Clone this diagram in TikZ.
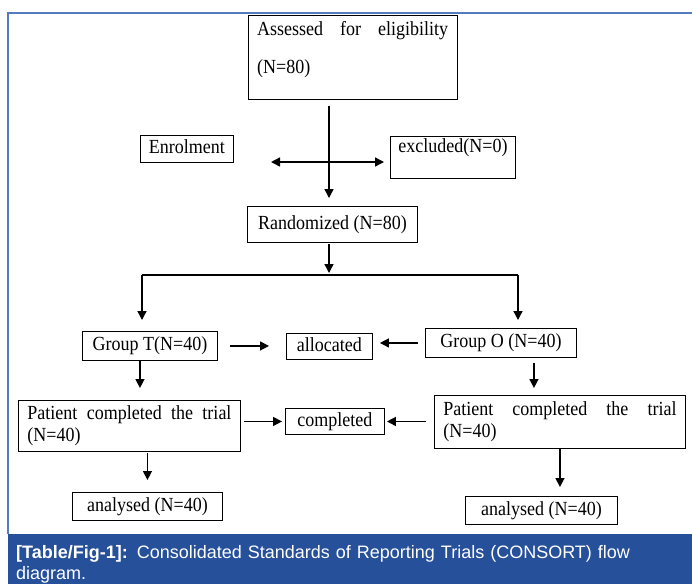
\documentclass[tikz,border=0pt]{standalone}
\usepackage{fontspec}
\setmainfont{Liberation Serif}[FakeStretch=0.9]
\setsansfont{Liberation Sans}
\usetikzlibrary{arrows.meta}
\definecolor{capblue}{RGB}{39,80,155}
\definecolor{rimblue}{RGB}{84,122,192}

\begin{document}
\begin{tikzpicture}[x=1pt,y=-1pt,
    box/.style={draw,line width=0.9pt,inner sep=0pt,anchor=north west,
      text height=14pt,text depth=4.5pt,font=\fontsize{20}{22}\selectfont},
    twoline/.style={box,align=left,inner xsep=9pt,text height=,text depth=},
    arr/.style={line width=1.4pt,-{Triangle[length=9pt,width=9pt]}},
    dblarr/.style={line width=1.4pt,{Triangle[length=9pt,width=9pt]}-{Triangle[length=9pt,width=9pt]}}]
  \useasboundingbox (0,0) rectangle (692,584);
  \fill[capblue] (8,534) rectangle (692,584);
  \draw[rimblue,line width=1.6pt] (8,534) -- (8,13) -- (692,13);

  \node[box,minimum width=209,minimum height=84] (assess) at (248,15) {};
  \node[anchor=north west,text width=191pt,align=left,inner sep=0pt,
    font=\fontsize{20}{22}\selectfont] (assessTxt) at (257,21)
    {Assessed\hfill for\hfill eligibility\\[16pt](N=80)};
  \node[box,minimum width=93,minimum height=27] (enrol) at (140,135) {Enrolment};
  \node[box,minimum width=125,minimum height=42,text depth=23pt] (excl) at (390,136) {excluded(N=0)};
  \node[box,minimum width=170,minimum height=36] (rand) at (247,206) {Randomized (N=80)};
  \node[box,minimum width=135,minimum height=29] (grpT) at (82,331) {Group T(N=40)};
  \node[box,minimum width=86,minimum height=26] (alloc) at (286,333) {allocated};
  \node[box,minimum width=151,minimum height=29] (grpO) at (425,328) {Group O (N=40)};
  \node[twoline,text width=204pt,minimum height=51] (patL) at (18,400)
    {Patient\hfill completed\hfill the\hfill trial\\(N=40)};
  \node[box,minimum width=99,minimum height=26] (compl) at (285,408) {completed};
  \node[twoline,text width=233pt,minimum height=53] (patR) at (434,395)
    {Patient\hfill completed\hfill the\hfill trial\\(N=40)};
  \node[box,minimum width=150,minimum height=28] (anL) at (72,492) {analysed (N=40)};
  \node[box,minimum width=152,minimum height=28] (anR) at (465,496) {analysed (N=40)};

  \coordinate (split) at (329,162);
  \coordinate (enrolEnd) at (271,162);
  \coordinate (exclEnd) at (384,162);
  \coordinate (fork) at (329,275);
  \coordinate (forkL) at (142,275);
  \coordinate (forkR) at (518,275);

  \draw[arr,shorten <=6pt,shorten >=8pt] (split |- assess.south) -- (split |- rand.north);
  \draw[dblarr] (enrolEnd) -- (exclEnd);
  \draw[arr,shorten <=1pt,shorten >=2pt] (fork |- rand.south) -- (fork);
  \draw[line width=1.1pt] (forkL) -- (forkR);
  \draw[arr,shorten >=11pt] (forkL) -- (forkL |- grpT.north);
  \draw[arr,shorten >=8pt] (forkR) -- (forkR |- grpO.north);
  \draw[arr,shorten <=12pt,shorten >=17pt] (grpT.east) -- (grpT.east -| alloc.west);
  \draw[arr,shorten <=7pt,shorten >=7pt] (grpO.west) -- (grpO.west -| alloc.east);
  \draw[arr,shorten >=12pt] ([xshift=-10pt]grpT.south) -- ([xshift=-10pt]grpT.south |- patL.north);
  \draw[arr,shorten <=5pt,shorten >=7pt] ([xshift=33pt]grpO.south) -- ([xshift=33pt]grpO.south |- patR.north);
  \draw[arr,shorten <=3pt,shorten >=3pt] (compl.west -| patL.east) -- (compl.west);
  \draw[arr,shorten <=8pt,shorten >=2pt] (compl.east -| patR.west) -- (compl.east);
  \draw[arr,shorten <=1pt,shorten >=12pt] (anL.north |- patL.south) -- (anL.north);
  \draw[arr,shorten >=9pt] (patR.south) -- (patR.south |- anR.north);

  \node[anchor=north west,text width=670pt,align=left,inner sep=0pt,text=white,
    font=\sffamily\fontsize{18}{21}\selectfont] (caption) at (16,545)
    {\textbf{[Table/Fig-1]:} Consolidated Standards of Reporting Trials (CONSORT) flow\\diagram.};
\end{tikzpicture}
\end{document}
